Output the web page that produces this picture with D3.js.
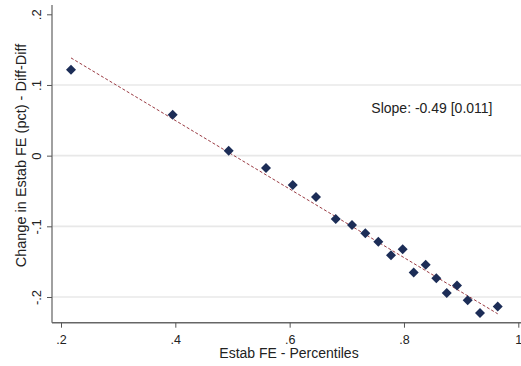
<!DOCTYPE html>
<html><head><meta charset="utf-8">
<script src="https://cdn.jsdelivr.net/npm/d3@7"></script>
<style>body{margin:0;background:#fff}svg{display:block}text{font-family:"Liberation Sans",Arial,sans-serif;fill:#222}</style>
</head><body><svg id="c" width="521" height="366"></svg>
<script>
const pctX = [0.2175,0.3954,0.4934,0.5586,0.6054,0.6461,0.6806,0.7091,0.7324,0.7551,0.7773,0.7978,0.8170,0.8380,0.8566,0.8748,0.8928,0.9115,0.9330,0.9640];
const diffY = [0.1216,0.0580,0.0071,-0.0174,-0.0414,-0.0584,-0.0895,-0.0980,-0.1098,-0.1220,-0.1409,-0.1324,-0.1655,-0.1542,-0.1734,-0.1942,-0.1839,-0.2045,-0.2225,-0.2136];
const fitX = [0.2175,0.964];
const fitY = [0.1383,-0.2238];
const xTicks = [0.2,0.4,0.6,0.8,1];
const yTicks = [-0.2,-0.1,0,0.1,0.2];
const fmt = v => v===0?"0":v===1?"1":(v<0?"-":"")+String(Math.abs(v)).replace(/^0/,"");
const svg = d3.select("#c");
const x = d3.scaleLinear().domain([0.2,1]).range([61,518.3]);
const y = d3.scaleLinear().domain([-0.2,0.2]).range([297,14.3]);
const pLeft=52, pBottom=322.7, pRight=521, pTop=5;
// gridlines
svg.append("g").selectAll("line").data(yTicks.filter(d=>d<0.15)).join("line")
  .attr("x1",pLeft).attr("x2",pRight).attr("y1",d=>y(d)).attr("y2",d=>y(d))
  .attr("stroke","#e8e8e8").attr("stroke-width",1.6);
// y axis
const ya = svg.append("g").attr("transform",`translate(${pLeft},0)`).call(d3.axisLeft(y).tickValues(yTicks).tickFormat(fmt).tickSize(5).tickPadding(4));
ya.select(".domain").attr("d",`M0,${pTop}V${pBottom}`).attr("stroke","#808080").attr("stroke-width",1.5);
ya.selectAll(".tick line").attr("stroke","#555");
ya.selectAll(".tick text").attr("transform","rotate(-90)").attr("x",0).attr("y",-11).attr("dy","0").attr("text-anchor","middle").style("font-size","13px").style("font-family","Liberation Sans, Arial, sans-serif").attr("fill","#222");
// x axis
const xa = svg.append("g").attr("transform",`translate(0,${pBottom})`).call(d3.axisBottom(x).tickValues(xTicks).tickFormat(fmt).tickSize(5));
xa.select(".domain").attr("d",`M${pLeft},0H${pRight}`).attr("stroke","#666").attr("stroke-width",1.5);
xa.selectAll(".tick line").attr("stroke","#555");
xa.selectAll(".tick text").attr("y",21.8).attr("dy","0").style("font-size","12.5px").style("font-family","Liberation Sans, Arial, sans-serif").attr("fill","#222");
// fit line
svg.append("line").attr("x1",x(fitX[0])).attr("y1",y(fitY[0])).attr("x2",x(fitX[1])).attr("y2",y(fitY[1]))
  .attr("stroke","#9a3b43").attr("stroke-width",1).attr("stroke-dasharray","3,2");
// points
svg.append("g").selectAll("path").data(pctX.map((v,i)=>[v,diffY[i]])).join("path")
  .attr("d",d3.symbol(d3.symbolSquare,50))
  .attr("transform",d=>`translate(${x(d[0])},${y(d[1])}) rotate(45)`)
  .attr("fill","#1c2d57");
// annotation
svg.append("text").attr("x",492.5).attr("y",113).attr("text-anchor","end").style("font-size","14px").text("Slope: -0.49 [0.011]");
// labels
svg.append("text").attr("x",289).attr("y",358.3).attr("text-anchor","middle").style("font-size","14px").text("Estab FE - Percentiles");
svg.append("text").attr("transform","translate(25.5,155.5) rotate(-90)").attr("text-anchor","middle").style("font-size","14.5px").text("Change in Estab FE (pct) - Diff-Diff");
</script></body></html>
